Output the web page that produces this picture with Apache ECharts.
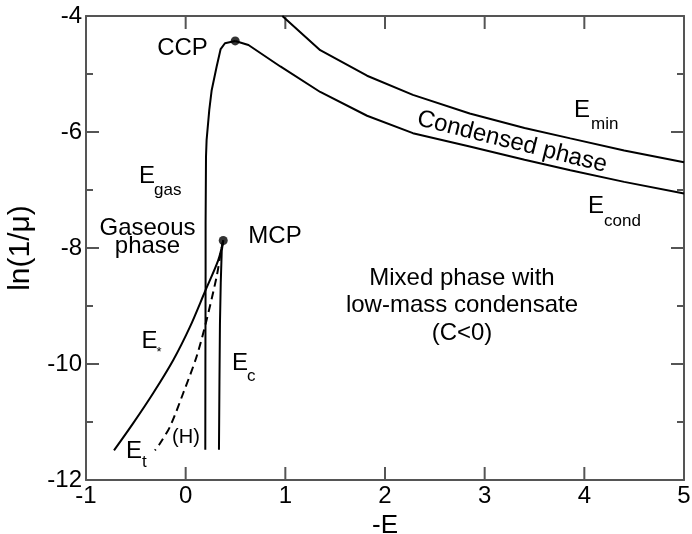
<!DOCTYPE html>
<html>
<head>
<meta charset="utf-8">
<script src="https://cdn.jsdelivr.net/npm/echarts@6/dist/echarts.min.js"></script>
<style>
html,body{margin:0;padding:0;background:#fff;}
#chart{width:692px;height:534px;}
</style>
</head>
<body>
<div id="chart"></div>
<script>
// ---- data ----
const xTicks = [-1, 0, 1, 2, 3, 4, 5];
const yTicks = [-12, -10, -8, -6, -4];
const yMinorTicks = [-11, -9, -7, -5];

const eMinX = [0.97, 1.35, 1.82, 2.28, 2.85, 3.40, 3.86, 4.40, 5.00];
const eMinY = [-4.00, -4.59, -5.03, -5.36, -5.68, -5.93, -6.11, -6.32, -6.52];

const eCondX = [0.497, 0.63, 0.95, 1.35, 1.82, 2.28, 2.85, 3.40, 3.86, 4.40, 5.00];
const eCondY = [-4.43, -4.50, -4.87, -5.31, -5.72, -6.02, -6.25, -6.48, -6.66, -6.86, -7.06];

const eGasX = [0.497, 0.394, 0.351, 0.311, 0.261, 0.237, 0.210, 0.204, 0.202, 0.200, 0.200, 0.198, 0.197];
const eGasY = [-4.43, -4.47, -4.57, -4.87, -5.28, -5.62, -6.14, -6.43, -7.00, -7.57, -8.40, -10.00, -11.48];

const eCX = [0.377, 0.362, 0.352, 0.344, 0.339, 0.334];
const eCY = [-7.87, -8.05, -8.60, -9.30, -10.30, -11.48];

const eStarX = [0.377, 0.327, 0.194, 0.043, -0.124, -0.325, -0.526, -0.719];
const eStarY = [-7.87, -8.21, -8.75, -9.36, -9.93, -10.50, -11.02, -11.49];

const eTX = [0.377, 0.351, 0.311, 0.210, 0.110, -0.024, -0.157, -0.258, -0.308];
const eTY = [-7.87, -8.09, -8.49, -9.24, -9.87, -10.50, -11.08, -11.37, -11.49];

const critNames = ['CCP', 'MCP'];
const critX = [0.497, 0.377];
const critY = [-4.43, -7.87];

// ---- helpers ----
const zip = (xs, ys) => xs.map((x, i) => [x, ys[i]]);
const FONT = '"Liberation Sans", Arial, Helvetica, sans-serif';
const AX = '#555';
const X_MIN = -1, X_MAX = 5, Y_MIN = -12, Y_MAX = -4;

function lineSeries(name, xs, ys, dashed) {
  return {
    name: name, type: 'line', data: zip(xs, ys), showSymbol: false, symbol: 'none',
    smooth: false, animation: false, silent: true, z: 3,
    lineStyle: { color: '#000', width: 2, type: dashed ? [8, 5] : 'solid' }
  };
}

function txt(text, x, y, size, extra) {
  return Object.assign({
    type: 'text', x: x, y: y, silent: true,
    style: { text: text, fill: '#000', font: size + 'px ' + FONT, align: 'left', verticalAlign: 'middle' }
  }, extra || {});
}
function ctxt(text, x, y, size) {
  const t = txt(text, x, y, size);
  t.style.align = 'center';
  return t;
}

// tick marks drawn inside the frame on all four sides, placed via the axes' scales
function tickLine(p, dx, dy) {
  return { type: 'line', shape: { x1: p[0], y1: p[1], x2: p[0] + dx, y2: p[1] + dy },
    style: { stroke: AX, lineWidth: 2 } };
}
const tickData = []
  .concat(xTicks.map(v => [v, Y_MIN, 0]))
  .concat(yTicks.map(v => [X_MIN, v, 1]))
  .concat(yMinorTicks.map(v => [X_MIN, v, 2]));

const tickSeries = {
  type: 'custom', data: tickData, silent: true, animation: false, clip: false,
  renderItem: function (params, api) {
    const kind = api.value(2);
    if (kind === 0) {
      const v = api.value(0);
      const pb = api.coord([v, Y_MIN]), pt = api.coord([v, Y_MAX]);
      return { type: 'group', children: [tickLine(pb, 0, -13), tickLine(pt, 0, 13)] };
    }
    const v = api.value(1);
    const len = kind === 1 ? 13 : 7;
    const pl = api.coord([X_MIN, v]), pr = api.coord([X_MAX, v]);
    return { type: 'group', children: [tickLine(pl, len, 0), tickLine(pr, -len, 0)] };
  }
};

const chart = echarts.init(document.getElementById('chart'), null, { renderer: 'canvas' });

const baseX = {
  type: 'value', min: X_MIN, max: X_MAX, interval: 1,
  splitLine: { show: false },
  axisLine: { show: true, onZero: false, lineStyle: { color: AX, width: 2 } },
  axisTick: { show: false },
  minorTick: { show: false }
};
const baseY = {
  type: 'value', min: Y_MIN, max: Y_MAX, interval: 2,
  splitLine: { show: false },
  axisLine: { show: true, onZero: false, lineStyle: { color: AX, width: 2 } },
  axisTick: { show: false },
  minorTick: { show: false },
  minorSplitLine: { show: false }
};

chart.setOption({
  animation: false,
  backgroundColor: '#fff',
  grid: { left: 86, right: 8, top: 16, bottom: 54, containLabel: false, outerBoundsMode: 'none' },
  xAxis: [
    Object.assign({}, baseX, {
      position: 'bottom',
      axisLabel: { show: true, color: '#000', fontSize: 24, fontFamily: FONT, margin: 4,
        formatter: v => (xTicks.indexOf(v) >= 0 ? String(v) : '') },
      name: '-E', nameLocation: 'middle', nameGap: 27,
      nameTextStyle: { color: '#000', fontSize: 26, fontFamily: FONT }
    }),
    Object.assign({}, baseX, { position: 'top', axisLabel: { show: false } })
  ],
  yAxis: [
    Object.assign({}, baseY, {
      position: 'left',
      axisLabel: { show: true, color: '#000', fontSize: 24, fontFamily: FONT, margin: 4,
        formatter: v => (yTicks.indexOf(v) >= 0 ? String(v) : '') },
      name: 'ln(1/μ)', nameLocation: 'middle', nameGap: 50, nameRotate: 90,
      nameTextStyle: { color: '#000', fontSize: 30, fontFamily: FONT }
    }),
    Object.assign({}, baseY, { position: 'right', axisLabel: { show: false } })
  ],
  series: [
    tickSeries,
    lineSeries('E_min', eMinX, eMinY),
    lineSeries('E_cond', eCondX, eCondY),
    lineSeries('E_gas', eGasX, eGasY),
    lineSeries('E_c', eCX, eCY),
    Object.assign(lineSeries('E_*', eStarX, eStarY), { smooth: 0.3 }),
    Object.assign(lineSeries('E_t (H)', eTX, eTY, true), { smooth: 0.3 }),
    {
      name: 'critical points', type: 'scatter', data: zip(critX, critY), z: 4,
      symbol: 'circle', symbolSize: 9, itemStyle: { color: '#000' }, silent: true, animation: false
    }
  ],
  graphic: [
    ctxt(critNames[0], 182.5, 48.6, 24),
    ctxt(critNames[1], 275, 236.6, 24),
    ctxt('Gaseous', 147.5, 228.3, 24),
    ctxt('phase', 147.5, 246.6, 24),
    ctxt('Mixed phase with', 462, 278.3, 24),
    ctxt('low-mass condensate', 462, 305, 24),
    ctxt('(C<0)', 462, 333, 24),
    txt('E', 139, 176.6, 24), txt('gas', 154, 190.7, 17),
    txt('E', 574, 110.6, 24), txt('min', 591, 124, 17),
    txt('E', 588, 206.6, 24), txt('cond', 604, 221, 17),
    txt('E', 232, 363.3, 24), txt('c', 247, 376, 17),
    txt('E', 141.5, 341.6, 24), txt('*', 156.5, 352, 13),
    txt('E', 126, 451.6, 24), txt('t', 142, 462, 17),
    ctxt('(H)', 186, 437.5, 20),
    {
      type: 'text', x: 512, y: 142, rotation: -14 * Math.PI / 180, silent: true,
      style: { text: 'Condensed phase', fill: '#000', font: '24px ' + FONT, align: 'center', verticalAlign: 'middle' }
    }
  ]
});
</script>
</body>
</html>
